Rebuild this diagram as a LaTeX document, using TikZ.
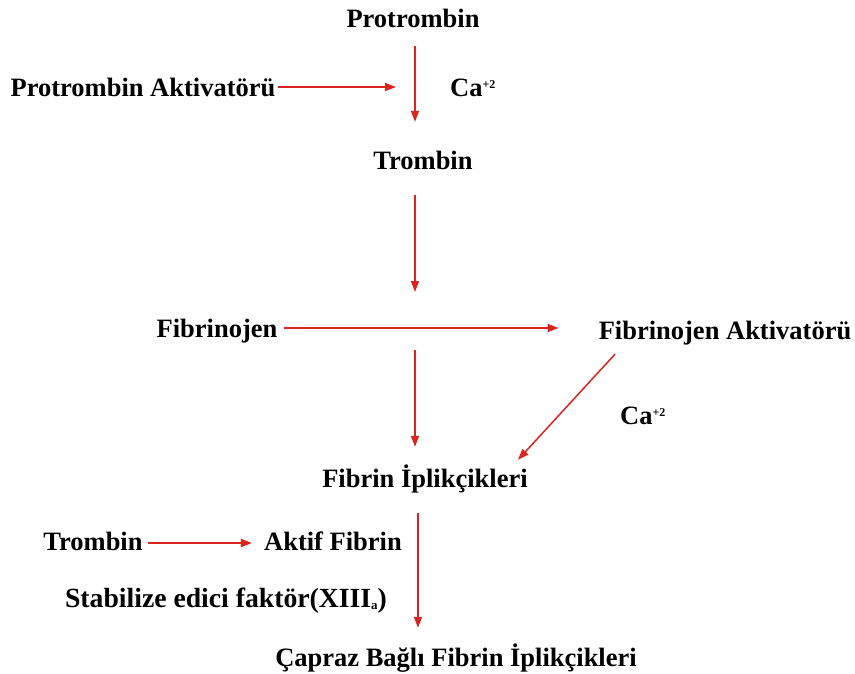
\documentclass[tikz,border=0pt]{standalone}
\usepackage{fontspec}
\setmainfont{Liberation Serif}
\usetikzlibrary{arrows.meta}
\definecolor{flowred}{RGB}{218,36,32}
\newcommand{\ionsup}[1]{{\fontsize{12}{12}\selectfont\raisebox{8pt}{#1}}}
\newcommand{\idxsub}[1]{{\fontsize{13}{13}\selectfont\raisebox{-2pt}{#1}}}
\tikzset{
  lbl/.style={font=\fontsize{26.5}{30}\selectfont\bfseries, inner sep=0pt,
    text height=18pt, text depth=6pt, anchor=base},
  arr/.style={draw=flowred, line width=1.5pt,
    -{Triangle[length=11pt,width=8pt]}},
}
\begin{document}
\begin{tikzpicture}[x=1pt,y=-1pt]
\useasboundingbox (0,0) rectangle (855,673);

% labels
\node[lbl] (prot) at (413,27) {Protrombin};
\node[lbl] (pa) at (143,96) {Protrombin Aktivatörü};
\node[lbl, anchor=base west] (ca1) at (450,96) {Ca\ionsup{+2}};
\node[lbl] (trom) at (423,169) {Trombin};
\node[lbl] (fib) at (217,337) {Fibrinojen};
\node[lbl] (fa) at (725,339) {Fibrinojen Aktivatörü};
\node[lbl, anchor=base west] (ca2) at (620,424) {Ca\ionsup{+2}};
\node[lbl] (fi) at (425,487) {Fibrin İplikçikleri};
\node[lbl] (trom2) at (93,550) {Trombin};
\node[lbl] (af) at (333,550) {Aktif Fibrin};
\node[lbl, font=\fontsize{27.7}{30}\selectfont\bfseries] (stab) at (226,607) {Stabilize edici faktör(XIII\idxsub{a})};
\node[lbl] (cap) at (456,666) {Çapraz Bağlı Fibrin İplikçikleri};

% junctions on the main vertical line
\coordinate (j1) at (415,87);
\coordinate (j2) at (415,328);

% connectors
\draw[arr] ([xshift=2pt,yshift=-13pt]prot.south) -- ([xshift=-8pt,yshift=29pt]trom.north);
\draw[arr] ([xshift=2pt,yshift=3pt]pa.east) -- ([xshift=-19pt]j1);
\draw[arr] ([xshift=-8pt,yshift=-20pt]trom.south) -- ([yshift=36pt]j2);
\draw[arr] ([xshift=6pt]fib.east |- j2) -- ([xshift=-40pt]fa.west |- j2);
\draw[arr] ([yshift=-22pt]j2) -- ([xshift=-10pt,yshift=22pt]fi.north);
\draw[arr] ([xshift=-110pt,yshift=-9pt]fa.south) -- ([xshift=93pt,yshift=9pt]fi.north);
\draw[arr] ([xshift=-7pt,yshift=-20pt]fi.south) -- ([xshift=-38pt,yshift=20pt]cap.north);
\draw[arr] ([xshift=5pt,yshift=1pt]trom2.east) -- ([xshift=-12pt,yshift=1pt]af.west);
\end{tikzpicture}
\end{document}
